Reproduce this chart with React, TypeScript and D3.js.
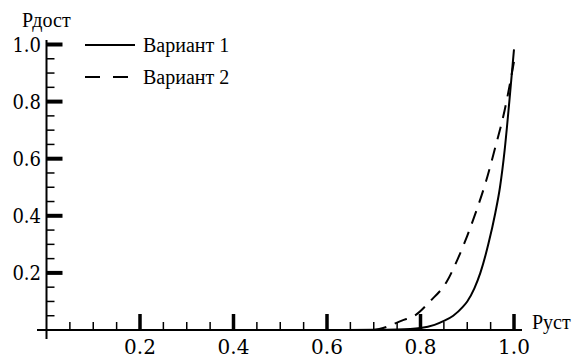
import React from "react";
import * as d3 from "d3";

const solidX = [0.645, 0.70, 0.75, 0.80, 0.83, 0.85, 0.87, 0.89, 0.90, 0.915, 0.928, 0.945, 0.96, 0.97, 0.98, 0.99, 1.0];
const solidY = [0.0, 0.001, 0.002, 0.007, 0.018, 0.032, 0.05, 0.08, 0.10, 0.145, 0.20, 0.30, 0.41, 0.50, 0.63, 0.80, 0.983];
const dashX = [0.70, 0.72, 0.76, 0.79, 0.82, 0.856, 0.88, 0.90, 0.92, 0.94, 0.96, 0.98, 1.0];
const dashY = [0.0, 0.007, 0.033, 0.053, 0.10, 0.169, 0.25, 0.33, 0.42, 0.52, 0.64, 0.77, 0.94];
const majorTicks = [0.2, 0.4, 0.6, 0.8, 1.0];
const majorLabels = ["0.2", "0.4", "0.6", "0.8", "1.0"];
const minorTicks = [0.05, 0.1, 0.15, 0.25, 0.3, 0.35, 0.45, 0.5, 0.55, 0.65, 0.7, 0.75, 0.85, 0.9, 0.95];
const seriesNames = ["Вариант 1", "Вариант 2"];
const xTitle = "Руст";
const yTitle = "Рдост";

export default function App() {
  const W = 576, H = 360;
  const x = d3.scaleLinear().domain([0, 1]).range([46.5, 514]);
  const y = d3.scaleLinear().domain([0, 1]).range([330, 44.5]);
  const line = d3.line<[number, number]>().x(d => x(d[0])).y(d => y(d[1])).curve(d3.curveMonotoneX);
  const s1 = solidX.map((v, i) => [v, solidY[i]] as [number, number]);
  const s2 = dashX.map((v, i) => [v, dashY[i]] as [number, number]);
  const serif: React.CSSProperties = { fontFamily: "Liberation Serif, Tinos, DejaVu Serif, serif", fontSize: "20px" };
  const num: React.CSSProperties = { fontFamily: "DejaVu Serif, serif", fontSize: "20px" };
  const numC: React.CSSProperties = { fontFamily: "DejaVu Serif Condensed, DejaVu Serif, serif", fontStretch: "condensed", fontSize: "20px" };
  const x0 = x(0), y0 = y(0);
  return (
    <svg width={W} height={H} style={{ position: "absolute", left: 0, top: 0, background: "#fff" }}>
      <rect width={W} height={H} fill="#fff" />
      <line x1={37} x2={522} y1={y0} y2={y0} stroke="#000" strokeWidth={2} />
      <line x1={x0} x2={x0} y1={339} y2={40} stroke="#000" strokeWidth={2} />
      {minorTicks.map(t => (
        <g key={"m" + t}>
          <line x1={x(t)} x2={x(t)} y1={y0} y2={y0 - 8} stroke="#000" strokeWidth={1.5} />
          <line x1={x0} x2={x0 + 8} y1={y(t)} y2={y(t)} stroke="#000" strokeWidth={1.5} />
        </g>
      ))}
      {majorTicks.map((t, i) => (
        <g key={"M" + t}>
          <line x1={x(t)} x2={x(t)} y1={y0} y2={y0 - 16} stroke="#000" strokeWidth={3.5} />
          <line x1={x0} x2={x0 + 16} y1={y(t)} y2={y(t)} stroke="#000" strokeWidth={4} />
          <text x={x(t)} y={354} textAnchor="middle" style={num}>{majorLabels[i]}</text>
          <text x={41} y={y(t)} dy="0.36em" textAnchor="end" style={numC}>{majorLabels[i]}</text>
        </g>
      ))}
      <text x={22} y={27} style={serif}>{yTitle}</text>
      <text x={532} y={329} style={serif}>{xTitle}</text>
      <path d={line(s1) || ""} fill="none" stroke="#000" strokeWidth={2} />
      <path d={line(s2) || ""} fill="none" stroke="#000" strokeWidth={2} strokeDasharray="13,9" />
      <line x1={85} x2={135} y1={45} y2={45} stroke="#000" strokeWidth={2} />
      <text x={143} y={52} style={serif}>{seriesNames[0]}</text>
      <line x1={85} x2={128} y1={77} y2={77} stroke="#000" strokeWidth={2} strokeDasharray="15,13" />
      <text x={143} y={84} style={serif}>{seriesNames[1]}</text>
    </svg>
  );
}
